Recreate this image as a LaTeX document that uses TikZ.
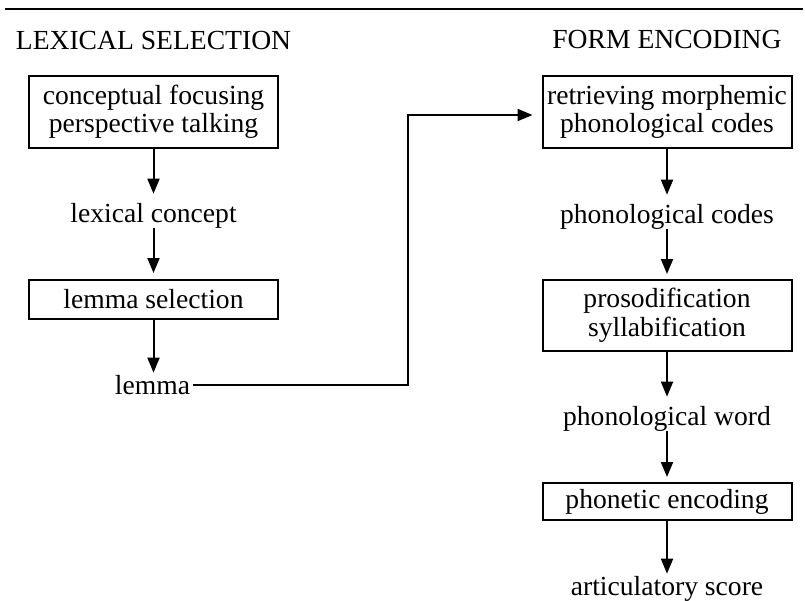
\documentclass[tikz,border=0pt]{standalone}
\usepackage{fontspec}
\setmainfont{Liberation Serif}
\usetikzlibrary{arrows.meta}
\begin{document}
\begin{tikzpicture}[x=1pt,y=-1pt,
  every node/.style={font=\fontsize{27.6}{28.5}\selectfont, inner sep=0pt},
  stagebox/.style={draw, line width=2pt, minimum width=249pt, align=center},
  term/.style={anchor=base, align=center},
  flowarrow/.style={line width=2pt, -{Triangle[length=15pt,width=12pt]}},
]
\useasboundingbox (0,0) rectangle (805,600);

% top rule
\draw[line width=2.6pt] (5,9) -- (803,9);

% column headings
\node[term] (headL) at (153.5,49) {LEXICAL SELECTION};
\node[term] (headR) at (667,48) {FORM ENCODING};

% lexical selection column
\node[stagebox, minimum height=72pt] (focus) at (153.5,112)
  {conceptual focusing\\perspective talking};
\node[term] (lexcon) at (153.5,222) {lexical concept};
\node[stagebox, minimum height=39pt] (lemsel) at (153.5,299.5) {lemma selection};
\node[term] (lemma) at (152.5,394) {lemma};

% form encoding column
\node[stagebox, minimum height=72pt] (retrieve) at (667,112)
  {retrieving morphemic\\phonological codes};
\node[term] (phoncodes) at (667,223) {phonological codes};
\node[stagebox, minimum height=71pt] (prosod) at (667,315.5)
  {prosodification\\syllabification};
\node[term] (phonword) at (667,425) {phonological word};
\node[stagebox, minimum height=37pt] (phonenc) at (667,501.5) {phonetic encoding};
\node[term] (artic) at (667,595) {articulatory score};

% connectors, left column
\draw[flowarrow, shorten >=9pt] (focus.south) -- (lexcon.north);
\draw[flowarrow, shorten >=6pt] (lexcon.south) -- (lemsel.north);
\draw[flowarrow, shorten >=2pt] (lemsel.south) -- (lemsel.south |- lemma.north);

% lemma feeds form encoding
\coordinate (bend) at (408,115);
\draw[flowarrow, shorten <=3pt, shorten >=9pt]
  (lemma.east) -| (bend) -- (retrieve.west |- bend);

% connectors, right column
\draw[flowarrow, shorten >=9pt] (retrieve.south) -- (phoncodes.north);
\draw[flowarrow, shorten >=5pt] (phoncodes.south) -- (prosod.north);
\draw[flowarrow, shorten >=9pt] (prosod.south) -- (phonword.north);
\draw[flowarrow, shorten >=5pt] (phonword.south) -- (phonenc.north);
\draw[flowarrow, shorten >=2pt] (phonenc.south) -- (artic.north);
\end{tikzpicture}
\end{document}
